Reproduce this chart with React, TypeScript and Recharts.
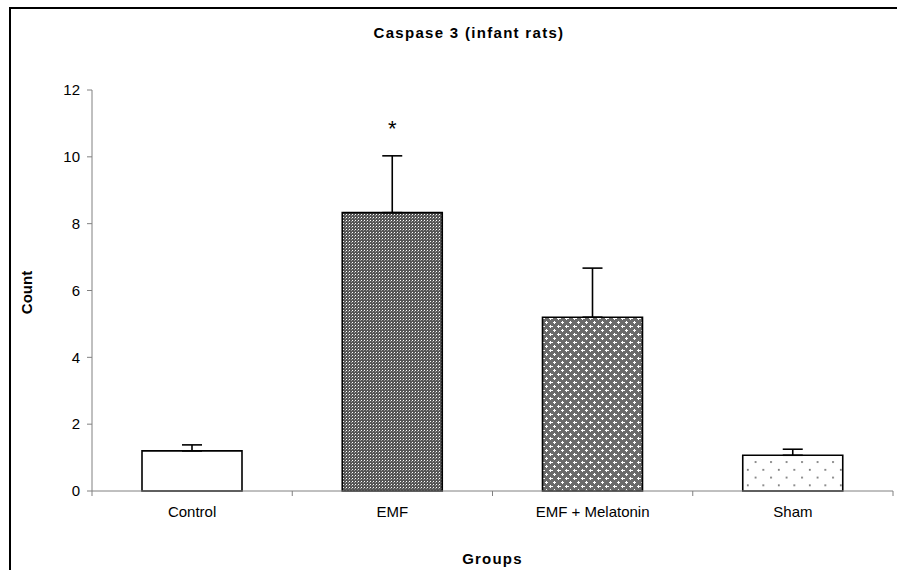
import React from "react";
import { BarChart, Bar, XAxis, YAxis, ErrorBar, LabelList } from "recharts";

const categories = ["Control", "EMF", "EMF + Melatonin", "Sham"];
const means = [1.2, 8.33, 5.2, 1.07];
const errors = [0.18, 1.7, 1.47, 0.18];
const marks = ["", "*", "", ""];
const fills = ["#ffffff", "url(#patEmf)", "url(#patMel)", "url(#patSham)"];
const yTicks = [0, 2, 4, 6, 8, 10, 12];
const xTicks = [0, 0.5, 1, 1.5, 2, 2.5, 3, 3.5, 4];

const data = categories.map((c, i) => ({
  x: i + 0.5,
  name: c,
  mean: means[i],
  err: [0, errors[i]],
  mark: marks[i],
  fill: fills[i],
}));

const FONT = "'Liberation Sans', Arial, sans-serif";

const XTick = (props: any) => {
  const { x, y, payload } = props;
  const v = payload.value as number;
  if (Number.isInteger(v)) {
    return <line x1={x} x2={x} y1={y} y2={y + 5} stroke="#808080" strokeWidth={1} />;
  }
  const i = Math.floor(v);
  return (
    <text x={x} y={y + 26} textAnchor="middle" fontSize={15} fontFamily={FONT} fill="#000">
      {categories[i]}
    </text>
  );
};

const StarLabel = (p: any) => {
  const { x, y, width, height } = p;
  let idx = p.index;
  if (idx === undefined) idx = means.indexOf(p.value);
  const m = marks[idx];
  if (!m) return null;
  const errPx = (height * errors[idx]) / means[idx];
  return (
    <text x={x + width / 2} y={y - errPx - 20} textAnchor="middle" fontSize={22} fontFamily={FONT} fill="#000">
      {m}
    </text>
  );
};

const YLabel = (p: any) => {
  const vb = p.viewBox || {};
  const cx = 26;
  const cy = (vb.y ?? 90) + (vb.height ?? 401) / 2 + 2;
  return (
    <text
      x={cx}
      y={cy}
      transform={`rotate(-90 ${cx} ${cy})`}
      textAnchor="middle"
      dominantBaseline="central"
      fontSize={15}
      fontWeight="bold"
      fontFamily={FONT}
      fill="#000"
    >
      Count
    </text>
  );
};

export default function App() {
  return (
    <div style={{ position: "fixed", left: 0, top: 0, width: 897, height: 570, overflow: "hidden", background: "#fff" }}>
      <svg width={0} height={0} style={{ position: "absolute" }}>
        <defs>
          <pattern id="patEmf" width={3} height={3} patternUnits="userSpaceOnUse">
            <rect width={3} height={3} fill="#555555" />
            <rect x={1} y={1} width={1} height={1} fill="#ffffff" />
            <rect x={0} y={2} width={1} height={1} fill="#999999" />
          </pattern>
          <pattern id="patMel" width={8} height={8} patternUnits="userSpaceOnUse">
            <rect width={8} height={8} fill="#6a6a6a" />
            <rect x={1} y={2} width={3} height={1} fill="#ffffff" />
            <rect x={2} y={1} width={1} height={3} fill="#ffffff" />
            <rect x={5} y={6} width={3} height={1} fill="#ffffff" />
            <rect x={6} y={5} width={1} height={3} fill="#ffffff" />
            <rect x={0} y={6} width={1} height={1} fill="#ffffff" />
          </pattern>
          <pattern id="patSham" width={15.5} height={15.5} patternUnits="userSpaceOnUse">
            <rect width={15.5} height={15.5} fill="#ffffff" />
            <rect x={3} y={4} width={1.6} height={1.6} fill="#555" />
            <rect x={10.75} y={11.75} width={1.6} height={1.6} fill="#555" />
          </pattern>
        </defs>
      </svg>
      <div style={{ position: "absolute", left: 9, top: 7, width: 1000, height: 1000, border: "2px solid #000", boxSizing: "border-box" }} />
      <div
        style={{
          position: "absolute",
          left: 0,
          width: 938,
          top: 24,
          textAlign: "center",
          fontFamily: FONT,
          fontWeight: "bold",
          fontSize: 15,
          letterSpacing: 1.3,
          color: "#000",
        }}
      >
        Caspase 3 (infant rats)
      </div>
      <div style={{ position: "absolute", left: 0, top: 0 }}>
        <BarChart width={897} height={570} data={data} margin={{ top: 90, right: 4, bottom: 49, left: 32 }}>
          <XAxis
            type="number"
            dataKey="x"
            domain={[0, 4]}
            ticks={xTicks}
            interval={0}
            tickSize={0}
            tickMargin={0}
            tickLine={false}
            tick={<XTick />}
            stroke="#808080"
            height={30}
            allowDataOverflow
            label={{ value: "Groups", position: "insideBottom", offset: -43, fontSize: 15, fontWeight: "bold", fontFamily: FONT, fill: "#000", letterSpacing: 1.2 } as any}
          />
          <YAxis
            domain={[0, 12]}
            ticks={yTicks}
            interval={0}
            width={60}
            tickSize={5}
            tickMargin={7}
            stroke="#808080"
            tick={{ fill: "#000", fontSize: 15, fontFamily: FONT }}
            label={<YLabel />}
          />
          <Bar dataKey="mean" barSize={100} stroke="#000" strokeWidth={1.6} isAnimationActive={false}>
            <ErrorBar dataKey="err" width={10} stroke="#000" strokeWidth={1.6} direction="y" />
            <LabelList dataKey="mean" content={<StarLabel />} />
          </Bar>
        </BarChart>
      </div>
    </div>
  );
}
